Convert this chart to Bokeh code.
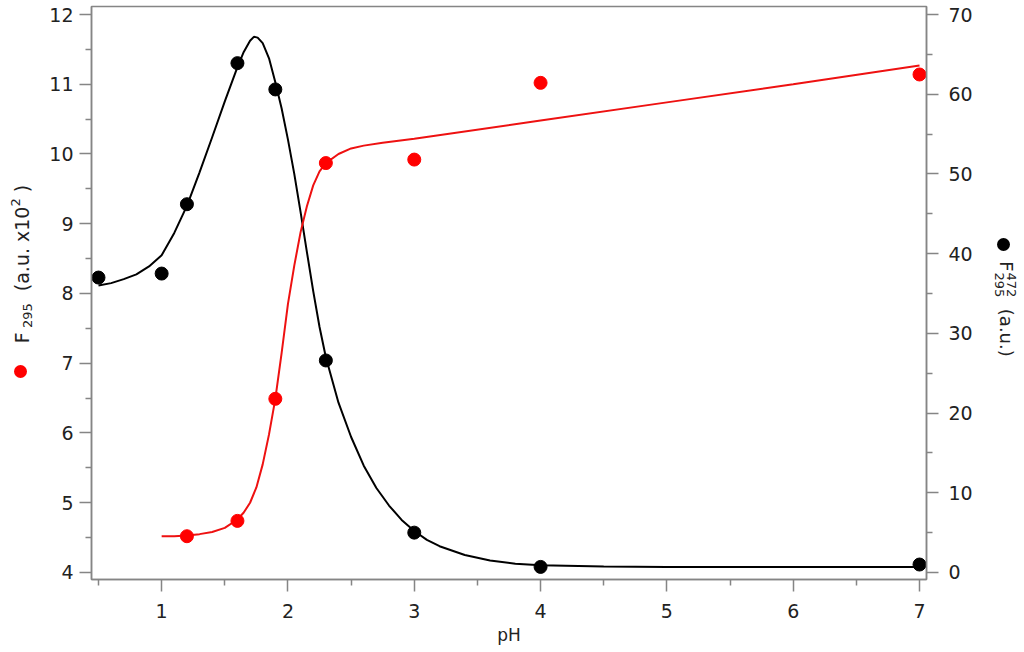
from bokeh.plotting import figure
from bokeh.models import Range1d, LinearAxis, FixedTicker, Div
from bokeh.layouts import row
from bokeh.embed import file_html
from bokeh.resources import INLINE

# ---------------- data ----------------
ph_points = [0.5, 1.0, 1.2, 1.6, 1.9, 2.3, 3.0, 4.0, 7.0]
f472_points = [37.0, 37.5, 46.2, 63.9, 60.6, 26.6, 5.0, 0.7, 1.0]          # right axis (black)

ph_red = [1.2, 1.6, 1.9, 2.3, 3.0, 4.0, 7.0]
f295_points = [4.52, 4.74, 6.49, 9.87, 9.92, 11.02, 11.14]                 # left axis (red)

# fitted curves
ph_fit_black = [0.5, 0.6, 0.7, 0.8, 0.9, 1.0, 1.1, 1.2, 1.3, 1.4, 1.5, 1.6, 1.65, 1.7, 1.73,
                1.76, 1.8, 1.85, 1.9, 1.95, 2.0, 2.05, 2.1, 2.15, 2.2, 2.25, 2.3, 2.4, 2.5,
                2.6, 2.7, 2.8, 2.9, 3.0, 3.1, 3.2, 3.4, 3.6, 3.8, 4.0, 4.5, 5.0, 6.0, 7.0]
f472_fit = [36.0, 36.3, 36.8, 37.4, 38.4, 39.8, 42.6, 46.0, 50.2, 54.6, 59.1, 63.4, 65.3, 66.7, 67.2,
            67.1, 66.4, 64.5, 61.5, 58.2, 54.3, 50.0, 45.2, 40.2, 35.3, 30.8, 27.0, 21.3, 17.0,
            13.4, 10.6, 8.4, 6.6, 5.2, 4.1, 3.3, 2.2, 1.5, 1.1, 0.9, 0.75, 0.7, 0.7, 0.7]

ph_fit_red = [1.0, 1.1, 1.2, 1.3, 1.4, 1.5, 1.6, 1.65, 1.7, 1.75, 1.8, 1.85, 1.9, 1.95, 2.0,
              2.05, 2.1, 2.15, 2.2, 2.25, 2.3, 2.4, 2.5, 2.6, 2.75, 3.0, 4.0, 5.0, 6.0, 7.0]
f295_fit = [4.52, 4.52, 4.53, 4.55, 4.58, 4.64, 4.76, 4.86, 5.0, 5.22, 5.55, 5.98, 6.49, 7.15, 7.85,
            8.4, 8.88, 9.25, 9.55, 9.75, 9.87, 10.0, 10.08, 10.12, 10.16, 10.22, 10.48, 10.74, 11.0, 11.27]

x_major = [1, 2, 3, 4, 5, 6, 7]
x_minor = [0.5, 1.5, 2.5, 3.5, 4.5, 5.5, 6.5]
yl_major = [4, 5, 6, 7, 8, 9, 10, 11, 12]
yl_minor = [4.5, 5.5, 6.5, 7.5, 8.5, 9.5, 10.5, 11.5]
yr_major = [0, 10, 20, 30, 40, 50, 60, 70]
yr_minor = [5, 15, 25, 35, 45, 55, 65]

FONT = "DejaVu Sans"
AX = "#858585"
TXT = "#222222"

X0, X1 = 0.4446, 7.0554
Y0, Y1 = 3.8996, 12.1147
R0, R1 = (Y0 - 4) * 8.75, (Y1 - 4) * 8.75

H = 650
LEFT_W, FIG_W, RIGHT_W = 44, 936, 40

p = figure(width=FIG_W, height=H, x_range=Range1d(X0, X1), y_range=Range1d(Y0, Y1),
           output_backend="svg", toolbar_location=None,
           min_border_left=47, min_border_right=54, min_border_top=6, min_border_bottom=71)
p.margin = 0
p.extra_y_ranges = {"right": Range1d(R0, R1)}
p.xgrid.visible = False
p.ygrid.visible = False
p.outline_line_color = AX
p.outline_line_width = 1.5
p.background_fill_color = "white"
p.border_fill_color = "white"

def style(ax, major, minor):
    ax.ticker = FixedTicker(ticks=major, minor_ticks=minor)
    ax.axis_line_color = AX
    ax.axis_line_width = 1.5
    ax.major_tick_line_color = AX
    ax.major_tick_line_width = 1.5
    ax.minor_tick_line_color = AX
    ax.minor_tick_line_width = 1.5
    ax.major_tick_in = 0
    ax.major_tick_out = 12
    ax.minor_tick_in = 0
    ax.minor_tick_out = 6
    ax.major_label_text_font = FONT
    ax.major_label_text_font_size = "19px"
    ax.major_label_text_color = TXT

xa = p.xaxis[0]
style(xa, x_major, x_minor)
xa.major_label_standoff = 12
xa.axis_label = "pH"
xa.axis_label_text_font = FONT
xa.axis_label_text_font_size = "17px"
xa.axis_label_text_font_style = "normal"
xa.axis_label_text_color = TXT
xa.axis_label_standoff = 4

style(p.yaxis[0], yl_major, yl_minor)
p.yaxis[0].major_label_standoff = 6
ra = LinearAxis(y_range_name="right")
style(ra, yr_major, yr_minor)
ra.major_label_standoff = 10
p.add_layout(ra, "right")

# curves
p.line(ph_fit_black, f472_fit, y_range_name="right", line_color="black", line_width=2)
p.line(ph_fit_red, f295_fit, line_color="#ee1111", line_width=2)
# points
p.scatter(ph_points, f472_points, y_range_name="right", size=13, color="black")
p.scatter(ph_red, f295_points, size=13, color="#ff0000")

# ---- axis titles (sub/superscripts) as HTML beside the figure ----
box = "position:relative;width:{w}px;height:{h}px;font-family:'DejaVu Sans',sans-serif;color:#222;"
left_html = (
    f'<div style="{box.format(w=LEFT_W, h=H)}">'
    '<div style="position:absolute;left:14px;top:365px;width:13px;height:13px;'
    'border-radius:50%;background:#ff0000;"></div>'
    '<div style="position:absolute;left:23px;top:264px;transform:translate(-50%,-50%) rotate(-90deg);'
    'white-space:nowrap;font-size:19px;line-height:19px;">'
    'F<span style="font-size:13px;position:relative;top:3px;">&nbsp;295</span>'
    '&nbsp;&nbsp;(a.u. x10<span style="font-size:13px;position:relative;top:-9px;">2</span>&nbsp;)</div>'
    '</div>'
)
right_html = (
    f'<div style="{box.format(w=RIGHT_W, h=H)}">'
    '<div style="position:absolute;left:17px;top:238px;width:13px;height:13px;'
    'border-radius:50%;background:#000;"></div>'
    '<div style="position:absolute;left:25px;top:309px;transform:translate(-50%,-50%) rotate(90deg);'
    'white-space:nowrap;font-size:18px;line-height:18px;">'
    'F<span style="display:inline-block;vertical-align:middle;font-size:13px;line-height:12px;'
    'margin-left:1px;">472<br>295</span>&nbsp;&nbsp;(a.u.)</div>'
    '</div>'
)
left_div = Div(text=left_html, width=LEFT_W, height=H, margin=0)
right_div = Div(text=right_html, width=RIGHT_W, height=H, margin=0)

layout = row(left_div, p, right_div, spacing=0)
open("out.html", "w").write(file_html(layout, INLINE))
